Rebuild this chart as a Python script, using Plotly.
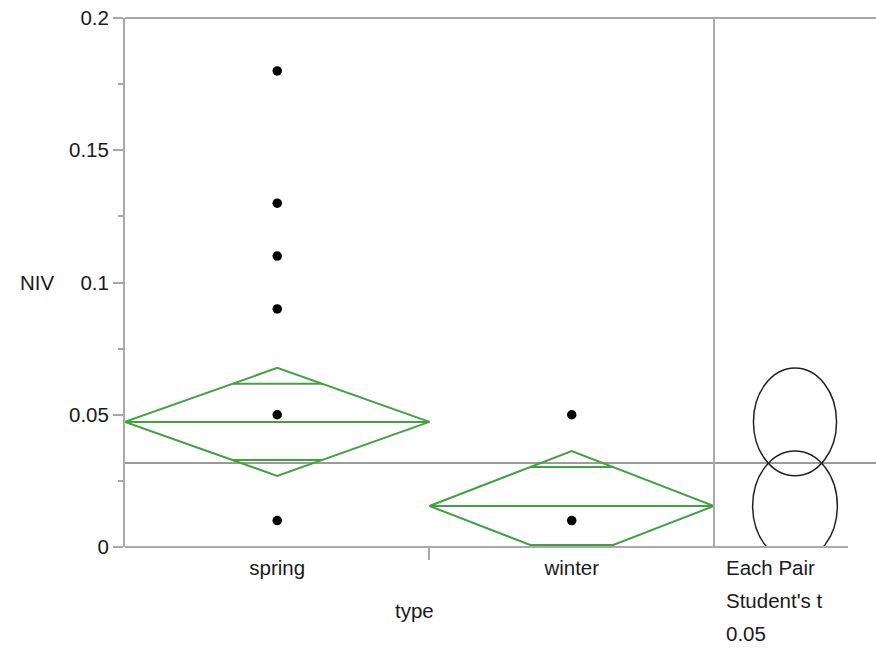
import numpy as np
import plotly.graph_objects as go

# ---------------- data ----------------
categories = ["spring", "winter"]
spring_niv = [0.18, 0.13, 0.11, 0.09, 0.05, 0.01]
winter_niv = [0.05, 0.01]
group_means = [0.0473, 0.0155]
group_ci_half = [0.0204, 0.0208]
grand_mean = 0.0318
y_tickvals = [0, 0.05, 0.1, 0.15, 0.2]
y_ticktext = ["0", "0.05", "0.1", "0.15", "0.2"]
compare_labels = ["Each Pair", "Student's t", "0.05"]

# ---------------- layout constants ----------------
W, H = 876, 648
ML, MR, MT, MB = 125, 0, 18, 101
plot_w = W - ML - MR
plot_h = H - MT - MB
split = 589 / plot_w           # where the comparison-circle panel begins
cat_widths = [1.07, 1.0]       # relative category widths
FONT = "Liberation Sans, Arial, sans-serif"
FS = 20.5
GREEN = "#3fa33f"
GRAY = "#a9a9a9"
TXT = "#1a1a1a"

groups = [spring_niv, winter_niv]
lefts = np.concatenate([[0], np.cumsum(cat_widths)[:-1]])
centers = lefts + np.array(cat_widths) / 2

fig = go.Figure()

# mean diamonds
dx, dy = [], []
for left, w, m, h in zip(lefts, cat_widths, group_means, group_ci_half):
    c = left + w / 2
    right = left + w
    dx += [left, c, right, c, left, None]
    dy += [m, m + h, m, m - h, m, None]
    dx += [left, right, None]
    dy += [m, m, None]
    off = h / np.sqrt(2)
    hw = (w / 2) * (1 - 1 / np.sqrt(2))
    for lvl in (m + off, m - off):
        dx += [c - hw, c + hw, None]
        dy += [lvl, lvl, None]
fig.add_trace(go.Scatter(x=dx, y=dy, mode="lines",
                         line=dict(color=GREEN, width=2),
                         hoverinfo="skip", showlegend=False))

# points
for c, vals in zip(centers, groups):
    fig.add_trace(go.Scatter(x=[c] * len(vals), y=vals, mode="markers",
                             marker=dict(color="black", size=9.5),
                             showlegend=False, cliponaxis=False))

# dummy trace to register the circle subplot
fig.add_trace(go.Scatter(x=[1], y=[grand_mean], xaxis="x2", yaxis="y",
                         mode="markers", marker=dict(opacity=0),
                         showlegend=False, hoverinfo="skip"))

# comparison circles (aspect squeeze as in reference)
px_per_y = plot_h / 0.2
x2_px_per_unit = (plot_w * (1 - split)) / 2
squeeze = 0.77
for m, h in zip(group_means, group_ci_half):
    rx = h * px_per_y * squeeze / x2_px_per_unit
    fig.add_shape(type="circle", xref="x2", yref="y",
                  x0=1 - rx, x1=1 + rx, y0=m - h, y1=m + h,
                  line=dict(color="#222222", width=1.5), layer="above")

# grand mean line
fig.add_shape(type="line", xref="paper", yref="y", x0=0, x1=1,
              y0=grand_mean, y1=grand_mean,
              line=dict(color="#9a9a9a", width=2), layer="below")
# frame lines
fig.add_shape(type="line", xref="paper", yref="paper", x0=0, x1=1, y0=1, y1=1,
              line=dict(color=GRAY, width=2))
fig.add_shape(type="line", xref="paper", yref="paper", x0=0, x1=1, y0=0, y1=0,
              line=dict(color=GRAY, width=2))
fig.add_shape(type="line", xref="paper", yref="paper", x0=split, x1=split, y0=0, y1=1,
              line=dict(color=GRAY, width=2))
# logo patch (white box at bottom right)
fig.add_shape(type="rect", xref="paper", yref="paper",
              x0=(848 - ML) / plot_w, x1=1, y0=-(H - MT) / plot_h, y1=(H - MB - 540) / plot_h,
              fillcolor="white", line=dict(width=0), layer="above")

# comparison labels
for i, t in enumerate(compare_labels):
    fig.add_annotation(text=t, xref="paper", yref="paper",
                       x=(724 - ML) / plot_w, y=-(20 + 33 * i) / plot_h,
                       xanchor="left", yanchor="middle", showarrow=False,
                       font=dict(family=FONT, size=FS, color=TXT))
# axis titles
fig.add_annotation(text="type", xref="paper", yref="paper",
                   x=split / 2 - 0.006, y=-63 / plot_h, xanchor="center", yanchor="middle",
                   showarrow=False, font=dict(family=FONT, size=FS, color=TXT))
fig.add_annotation(text="NIV", xref="paper", yref="paper",
                   x=(37 - ML) / plot_w, y=0.5, xanchor="center", yanchor="middle",
                   showarrow=False, font=dict(family=FONT, size=FS, color=TXT))

fig.update_layout(
    width=W, height=H,
    margin=dict(l=ML, r=MR, t=MT, b=MB),
    paper_bgcolor="white", plot_bgcolor="white",
    font=dict(family=FONT, size=FS, color=TXT),
    xaxis=dict(domain=[0, split], range=[0, sum(cat_widths)],
               tickvals=list(centers), ticktext=categories,
               ticks="", showgrid=False, zeroline=False, showline=False,
               ticklabelstandoff=6,
               minor=dict(tickvals=[lefts[1]], ticks="outside", ticklen=12,
                          tickcolor=GRAY, tickwidth=2, showgrid=False)),
    xaxis2=dict(domain=[split, 1], range=[0, 2], anchor="y",
                showticklabels=False, ticks="", showgrid=False,
                zeroline=False, showline=False),
    yaxis=dict(range=[0, 0.2], tickvals=y_tickvals, ticktext=y_ticktext,
               ticks="outside", ticklen=10, tickwidth=2, tickcolor=GRAY,
               showline=True, linecolor=GRAY, linewidth=2,
               showgrid=False, zeroline=False, ticklabelstandoff=0,
               minor=dict(dtick=0.025, ticks="outside", ticklen=5,
                          tickcolor=GRAY, tickwidth=2, showgrid=False)),
)

fig.write_html("out.html")
